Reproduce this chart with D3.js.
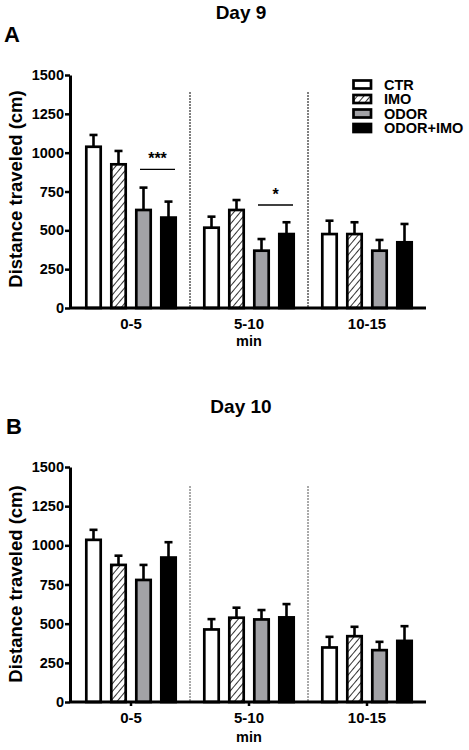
<!DOCTYPE html>
<html><head><meta charset="utf-8">
<script src="https://cdn.jsdelivr.net/npm/d3@7"></script>
<style>body{margin:0;background:#fff}svg{display:block}text{font-family:"Liberation Sans",Arial,sans-serif;font-weight:bold}</style>
</head><body>
<svg id="c" width="469" height="750"></svg>
<script>
const groups = ["0-5", "5-10", "10-15"];
const series = ["CTR", "IMO", "ODOR", "ODOR+IMO"];
const yTicks = [0, 250, 500, 750, 1000, 1250, 1500];
// Day 9 means and mean+SEM
const day9Mean = [[1038, 925, 631, 582], [517, 631, 369, 476], [476, 476, 369, 423]];
const day9Err  = [[1114, 1011, 775, 685], [588, 695, 444, 552], [562, 552, 438, 541]];
// Day 10 means and mean+SEM
const day10Mean = [[1035, 875, 779, 922], [463, 538, 527, 540], [348, 420, 331, 390]];
const day10Err  = [[1099, 934, 875, 1020], [529, 602, 587, 625], [416, 480, 384, 484]];
const day9Sig = [{group: "0-5", label: "***", value: 893}, {group: "5-10", label: "*", value: 663}];

const svg = d3.select("#c");
const defs = svg.append("defs");
const pat = defs.append("pattern").attr("id", "hatch").attr("patternUnits", "userSpaceOnUse")
  .attr("width", 5).attr("height", 5).attr("patternTransform", "rotate(40)");
pat.append("rect").attr("width", 5).attr("height", 5).attr("fill", "#fff");
pat.append("line").attr("x1", 0).attr("y1", 0).attr("x2", 0).attr("y2", 5).attr("stroke", "#000").attr("stroke-width", 1.6);

const fills = {"CTR": "#ffffff", "IMO": "url(#hatch)", "ODOR": "#a2a2a6", "ODOR+IMO": "#000000"};

const x0 = d3.scaleBand().domain(groups).range([72, 426]).padding(0);
const x1 = d3.scaleBand().domain(series).range([-46, 46]).paddingInner(0.32).paddingOuter(0);

function panel(cfg) {
  const g = svg.append("g");
  const y = d3.scaleLinear().domain([0, 1500]).range([cfg.y0, cfg.y1]);
  // titles
  g.append("text").attr("x", 241).attr("y", cfg.titleY).attr("text-anchor", "middle").attr("font-size", 19).text(cfg.title);
  g.append("text").attr("x", cfg.letterX).attr("y", cfg.letterY).attr("font-size", 22).text(cfg.letter);
  // dotted separators
  groups.slice(1).forEach(gr => {
    const xs = x0(gr);
    g.append("line").attr("x1", xs).attr("x2", xs).attr("y1", cfg.dashTop).attr("y2", cfg.y0)
      .attr("stroke", cfg.dashColor).attr("stroke-width", 1).attr("stroke-dasharray", "2,1");
  });
  // bars
  cfg.mean.forEach((row, gi) => {
    const cx = x0(groups[gi]) + x0.bandwidth() / 2;
    row.forEach((v, si) => {
      const s = series[si];
      const bx = cx + x1(s) + 1.3;
      const bw = x1.bandwidth() - 2.6;
      const ey = y(cfg.err[gi][si]);
      g.append("line").attr("x1", bx + bw / 2).attr("x2", bx + bw / 2).attr("y1", y(v)).attr("y2", ey)
        .attr("stroke", "#000").attr("stroke-width", 2.6);
      g.append("line").attr("x1", bx + bw / 2 - 4).attr("x2", bx + bw / 2 + 4).attr("y1", ey).attr("y2", ey)
        .attr("stroke", "#000").attr("stroke-width", 2.6);
      g.append("rect").attr("x", bx).attr("y", y(v)).attr("width", bw).attr("height", y(0) - y(v))
        .attr("fill", fills[s]).attr("stroke", "#000").attr("stroke-width", 2.7);
    });
  });
  // significance
  (cfg.sig || []).forEach(sg => {
    const cx = x0(sg.group) + x0.bandwidth() / 2;
    const xa = cx + x1("ODOR") + 5, xb = cx + x1("ODOR+IMO") + x1.bandwidth() - 2;
    g.append("line").attr("x1", xa).attr("x2", xb).attr("y1", y(sg.value)).attr("y2", y(sg.value))
      .attr("stroke", "#000").attr("stroke-width", 1.3);
    g.append("text").attr("x", (xa + xb) / 2).attr("y", y(sg.value) - 5).attr("text-anchor", "middle")
      .attr("font-size", 16).attr("font-weight", "normal").text(sg.label);
  });
  // y axis
  const ya = g.append("g").attr("transform", "translate(70,0)")
    .call(d3.axisLeft(y).tickValues(yTicks).tickFormat(d3.format("d")).tickSize(5).tickSizeOuter(0).tickPadding(1));
  ya.select(".domain").attr("stroke-width", 3);
  ya.selectAll(".tick line").attr("stroke-width", 2.5);
  ya.selectAll(".tick text").attr("font-size", 14.5).attr("font-family", "Liberation Sans, Arial, sans-serif").attr("font-weight", "bold").attr("fill", "#000");
  // x axis
  const xa = g.append("g").attr("transform", `translate(0,${cfg.y0})`)
    .call(d3.axisBottom(x0).tickSize(cfg.xTick).tickSizeOuter(0).tickPadding(cfg.xTick ? 6 : 10));
  xa.select(".domain").attr("stroke-width", 3).attr("d", `M70,0H426`);
  xa.selectAll(".tick line").attr("stroke-width", 2.5);
  xa.selectAll(".tick text").attr("font-size", 15).attr("font-family", "Liberation Sans, Arial, sans-serif").attr("font-weight", "bold").attr("fill", "#000");
  g.append("text").attr("x", 249).attr("y", cfg.minY).attr("text-anchor", "middle").attr("font-size", 14.5).text("min");
  // y label
  g.append("text").attr("transform", `translate(22,${cfg.labelY}) rotate(-90)`).attr("text-anchor", "middle")
    .attr("font-size", 18.5).text("Distance traveled (cm)");
}

panel({title: "Day 9", titleY: 18.5, letter: "A", letterX: 4, letterY: 42, y0: 308, y1: 75, dashTop: 92, dashColor: "#000",
  mean: day9Mean, err: day9Err, sig: day9Sig, xTick: 0, minY: 346, labelY: 189});
panel({title: "Day 10", titleY: 413, letter: "B", letterX: 6, letterY: 434, y0: 702, y1: 467, dashTop: 486, dashColor: "#555",
  mean: day10Mean, err: day10Err, sig: [], xTick: 4, minY: 742, labelY: 584});

// legend
const leg = svg.append("g");
series.forEach((s, i) => {
  const ly = 84.5 + i * 14.5;
  leg.append("rect").attr("x", 353.5).attr("y", ly - 4).attr("width", 17.5).attr("height", 8)
    .attr("fill", fills[s]).attr("stroke", "#000").attr("stroke-width", 2.7);
  leg.append("text").attr("x", 384).attr("y", ly + 5).attr("font-size", 14.5).text(s);
});
</script>
</body></html>
